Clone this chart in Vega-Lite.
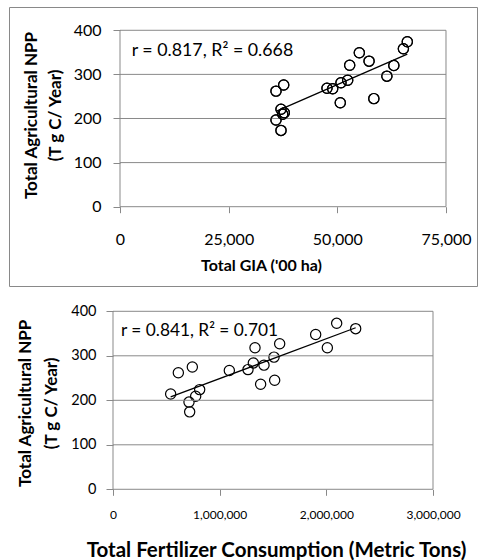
{
  "$schema": "https://vega.github.io/schema/vega-lite/v6.json",
  "padding": {"left": 8, "top": 6, "right": 0, "bottom": 0},
  "spacing": 5,
  "config": {
    "font": "Lato",
    "axis": {"labelColor": "#000000", "titleColor": "#000000", "labelFont": "Lato", "titleFont": "Lato", "tickColor": "#898989", "domain": false, "grid": false, "tickSize": 7}
  },
  "datasets": {
    "gia": [
      {"gia": 35890, "npp": 262}, {"gia": 37660, "npp": 276}, {"gia": 37040, "npp": 221},
      {"gia": 37430, "npp": 209.5}, {"gia": 37800, "npp": 213}, {"gia": 35890, "npp": 196.6},
      {"gia": 37040, "npp": 173}, {"gia": 47620, "npp": 268.5}, {"gia": 48930, "npp": 267.6},
      {"gia": 50840, "npp": 281}, {"gia": 52380, "npp": 286.6}, {"gia": 50680, "npp": 235.8},
      {"gia": 52840, "npp": 320.6}, {"gia": 55060, "npp": 349}, {"gia": 57300, "npp": 330},
      {"gia": 58400, "npp": 245}, {"gia": 61400, "npp": 296}, {"gia": 63000, "npp": 320},
      {"gia": 65200, "npp": 358}, {"gia": 66100, "npp": 374}
    ],
    "fert": [
      {"fert": 540600, "npp": 214}, {"fert": 612500, "npp": 262}, {"fert": 743750, "npp": 275},
      {"fert": 712500, "npp": 196}, {"fert": 718750, "npp": 174}, {"fert": 775000, "npp": 209},
      {"fert": 812500, "npp": 224}, {"fert": 1090600, "npp": 267}, {"fert": 1265600, "npp": 269},
      {"fert": 1315600, "npp": 284}, {"fert": 1331250, "npp": 318}, {"fert": 1384000, "npp": 236},
      {"fert": 1415600, "npp": 279}, {"fert": 1515600, "npp": 245}, {"fert": 1509400, "npp": 297},
      {"fert": 1562500, "npp": 327}, {"fert": 1900000, "npp": 348}, {"fert": 2009400, "npp": 318},
      {"fert": 2096900, "npp": 373}, {"fert": 2275000, "npp": 361}
    ],
    "grid": [{"g": 100}, {"g": 200}, {"g": 300}]
  },
  "vconcat": [
    {
      "width": 468,
      "height": 279,
      "view": {"stroke": "#898989", "strokeWidth": 1},
      "layer": [
        {
          "data": {"name": "gia"},
          "mark": {"type": "point", "shape": "circle", "filled": false, "stroke": "#000000", "strokeWidth": 1.2, "size": 105, "opacity": 1},
          "encoding": {
            "x": {"field": "gia", "type": "quantitative", "scale": {"domain": [-25537, 82132], "zero": false, "nice": false},
              "axis": {"values": [0, 25000, 50000, 75000], "labelExpr": "format(datum.value, ',')", "offset": -79.3, "tickSize": 6, "labelPadding": 19, "labelFontSize": 16,
                "title": "Total GIA ('00 ha)", "titleFontSize": 16, "titleFontWeight": "bold", "titleX": 252, "titleY": 59, "titleBaseline": "middle", "titleAlign": "center"}},
            "y": {"field": "npp", "type": "quantitative", "scale": {"domain": [-179.8, 452.8], "zero": false, "nice": false},
              "axis": {"values": [0, 100, 200, 300, 400], "labelExpr": "format(datum.value, ',')", "offset": -111, "labelPadding": 12, "labelFontSize": 16,
                "title": ["Total Agricultural  NPP", "(T g C/ Year)"], "titleFontSize": 17, "titleFontWeight": "bold", "titleLineHeight": 24,
                "titleX": -89, "titleY": 108, "titleAngle": -90, "titleBaseline": "middle", "titleAlign": "center"}}
          }
        },
        {
          "data": {"name": "grid"},
          "mark": {"type": "rule", "color": "#898989", "strokeWidth": 1},
          "encoding": {
            "y": {"field": "g", "type": "quantitative"},
            "x": {"datum": 0, "type": "quantitative"},
            "x2": {"datum": 75000}
          }
        },
        {
          "data": {"values": [{}]},
          "mark": {"type": "rect", "fill": null, "fillOpacity": 0, "stroke": "#898989", "strokeWidth": 1},
          "encoding": {
            "x": {"datum": 0, "type": "quantitative"},
            "x2": {"datum": 75000},
            "y": {"datum": 0, "type": "quantitative"},
            "y2": {"datum": 400}
          }
        },
        {
          "data": {"name": "gia"},
          "mark": {"type": "point", "shape": "circle", "filled": false, "stroke": "#000000", "strokeWidth": 1.2, "size": 105, "opacity": 1},
          "encoding": {
            "x": {"field": "gia", "type": "quantitative"},
            "y": {"field": "npp", "type": "quantitative"}
          }
        },
        {
          "data": {"name": "gia"},
          "transform": [{"regression": "npp", "on": "gia"}],
          "mark": {"type": "line", "color": "#000000", "strokeWidth": 1.3},
          "encoding": {
            "x": {"field": "gia", "type": "quantitative"},
            "y": {"field": "npp", "type": "quantitative"}
          }
        },
        {
          "data": {"values": [{"label": "r = 0.817, R² = 0.668"}]},
          "mark": {"type": "text", "align": "left", "baseline": "middle", "fontSize": 17.8, "font": "Lato", "color": "#000000"},
          "encoding": {
            "x": {"datum": 2690, "type": "quantitative"},
            "y": {"datum": 353, "type": "quantitative"},
            "text": {"field": "label", "type": "nominal"}
          }
        }
      ]
    },
    {
      "width": 468,
      "height": 270,
      "view": {"stroke": null},
      "layer": [
        {
          "data": {"name": "fert"},
          "mark": {"type": "point", "shape": "circle", "filled": false, "stroke": "#000000", "strokeWidth": 1.2, "size": 105, "opacity": 1},
          "encoding": {
            "x": {"field": "fert", "type": "quantitative", "scale": {"domain": [-975000, 3412500], "zero": false, "nice": false},
              "axis": {"values": [0, 1000000, 2000000, 3000000], "labelExpr": "format(datum.value, ',')", "offset": -72.7, "tickSize": 6, "labelPadding": 14, "labelFontSize": 12,
                "title": "Total Fertilizer Consumption (Metric Tons)", "titleFontSize": 20.5, "titleFontWeight": "bold", "titleX": 267, "titleY": 61, "titleBaseline": "middle", "titleAlign": "center"}},
            "y": {"field": "npp", "type": "quantitative", "scale": {"domain": [-163.4, 443.4], "zero": false, "nice": false},
              "axis": {"values": [0, 100, 200, 300, 400], "labelExpr": "format(datum.value, ',')", "offset": -104, "labelPadding": 10, "labelFontSize": 14.5,
                "title": ["Total Agricultural NPP", "(T g C/ Year)"], "titleFontSize": 17, "titleFontWeight": "bold", "titleLineHeight": 26,
                "titleX": -88, "titleY": 110.8, "titleAngle": -90, "titleBaseline": "middle", "titleAlign": "center"}}
          }
        },
        {
          "data": {"name": "grid"},
          "mark": {"type": "rule", "color": "#898989", "strokeWidth": 1},
          "encoding": {
            "y": {"field": "g", "type": "quantitative"},
            "x": {"datum": 0, "type": "quantitative"},
            "x2": {"datum": 3000000}
          }
        },
        {
          "data": {"values": [{}]},
          "mark": {"type": "rect", "fill": null, "fillOpacity": 0, "stroke": "#898989", "strokeWidth": 1},
          "encoding": {
            "x": {"datum": 0, "type": "quantitative"},
            "x2": {"datum": 3000000},
            "y": {"datum": 0, "type": "quantitative"},
            "y2": {"datum": 400}
          }
        },
        {
          "data": {"name": "fert"},
          "transform": [{"regression": "npp", "on": "fert"}],
          "mark": {"type": "line", "color": "#000000", "strokeWidth": 1.3},
          "encoding": {
            "x": {"field": "fert", "type": "quantitative"},
            "y": {"field": "npp", "type": "quantitative"}
          }
        },
        {
          "data": {"values": [{"label": "r = 0.841, R² = 0.701"}]},
          "mark": {"type": "text", "align": "left", "baseline": "middle", "fontSize": 17.3, "font": "Lato", "color": "#000000"},
          "encoding": {
            "x": {"datum": 75000, "type": "quantitative"},
            "y": {"datum": 356, "type": "quantitative"},
            "text": {"field": "label", "type": "nominal"}
          }
        }
      ]
    }
  ]
}
